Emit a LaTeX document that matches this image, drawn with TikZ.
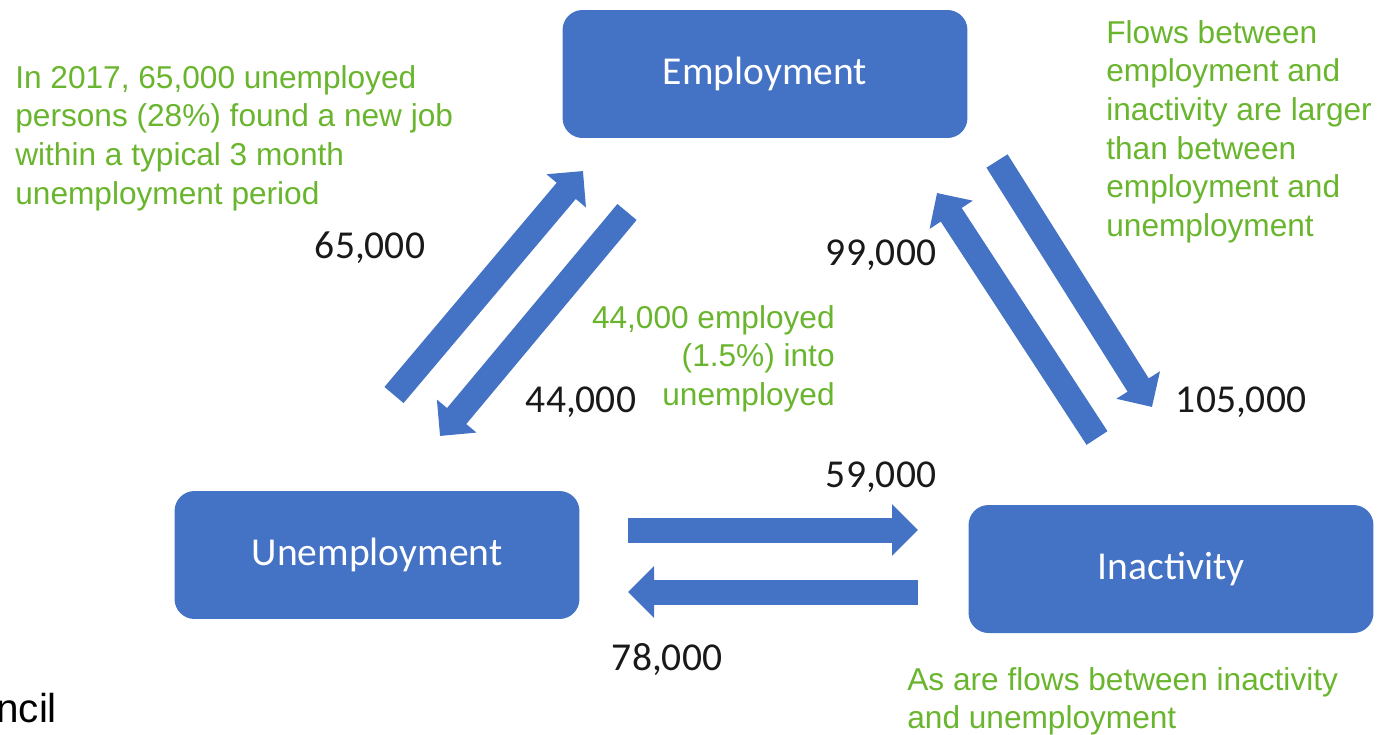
\documentclass[tikz,border=0pt]{standalone}
\usepackage{fontspec}
\setmainfont{Liberation Sans}
\newfontfamily\calibri{Carlito}
\usetikzlibrary{arrows.meta}
\definecolor{boxblue}{RGB}{68,114,196}
\definecolor{notegreen}{RGB}{106,181,46}
\tikzset{
	stage/.style={fill=boxblue, rounded corners=0.4cm, minimum width=8.1cm, minimum height=2.56cm, text=white, font=\calibri\fontsize{22.5}{27}\selectfont},
	flow/.style={boxblue, line width=0.5cm, -{Triangle[width=1cm,length=0.52cm]}},
	count/.style={font=\calibri\fontsize{22.5}{27}\selectfont, text=black!90},
	note/.style={text=notegreen, font=\fontsize{18}{22}\selectfont, inner sep=0pt}
}
\begin{document}
\begin{tikzpicture}[x=0.02cm, y=-0.02cm]
		\useasboundingbox (0,0) rectangle (1388,734);
		\node[stage] (emp) at (765,74) {Employment};
		\node[stage] (unemp) at (377,555) {Unemployment};
		\node[stage] (inact) at (1171,569) {Inactivity};
		\coordinate (ue1) at (394,395);
		\coordinate (ue2) at (583,171);
		\coordinate (eu1) at (627,212);
		\coordinate (eu2) at (440,436);
		\coordinate (ei1) at (997,161);
		\coordinate (ei2) at (1152,407);
		\coordinate (ie1) at (1097,438);
		\coordinate (ie2) at (937,193);
		\coordinate (ui1) at (628,530);
		\coordinate (ui2) at (918,530);
		\coordinate (iu1) at (918,592);
		\coordinate (iu2) at (628,592);
		\draw[flow] (ue1) -- (ue2);
		\draw[flow] (eu1) -- (eu2);
		\draw[flow] (ei1) -- (ei2);
		\draw[flow] (ie1) -- (ie2);
		\draw[flow] (ui1) -- (ui2);
		\draw[flow] (iu1) -- (iu2);
		\node[count] (n65) at (370,248) {65,000};
		\node[count] (n44) at (581,402) {44,000};
		\node[count] (n99) at (881,255) {99,000};
		\node[count] (n105) at (1241,402) {105,000};
		\node[count] (n59) at (881,477) {59,000};
		\node[count] (n78) at (667,660) {78,000};
		\node[note, anchor=north west, align=left] (found) at (15,65) {In 2017, 65,000 unemployed\\persons (28\%) found a new job\\within a typical 3 month\\unemployment period};
		\node[note, anchor=north west, align=left] (larger) at (1106,20) {Flows between\\employment and\\inactivity are larger\\than between\\employment and\\unemployment};
		\node[note, anchor=north east, align=right] (into) at (835,305) {44,000 employed\\(1.5\%) into\\unemployed};
		\node[note, anchor=north west, align=left] (asare) at (907,667) {As are flows between inactivity\\and unemployment};
		\node[note, text=black, font=\fontsize{23}{27}\selectfont, anchor=north west] (cut) at (-4,693) {ncil};
\end{tikzpicture}
\end{document}
